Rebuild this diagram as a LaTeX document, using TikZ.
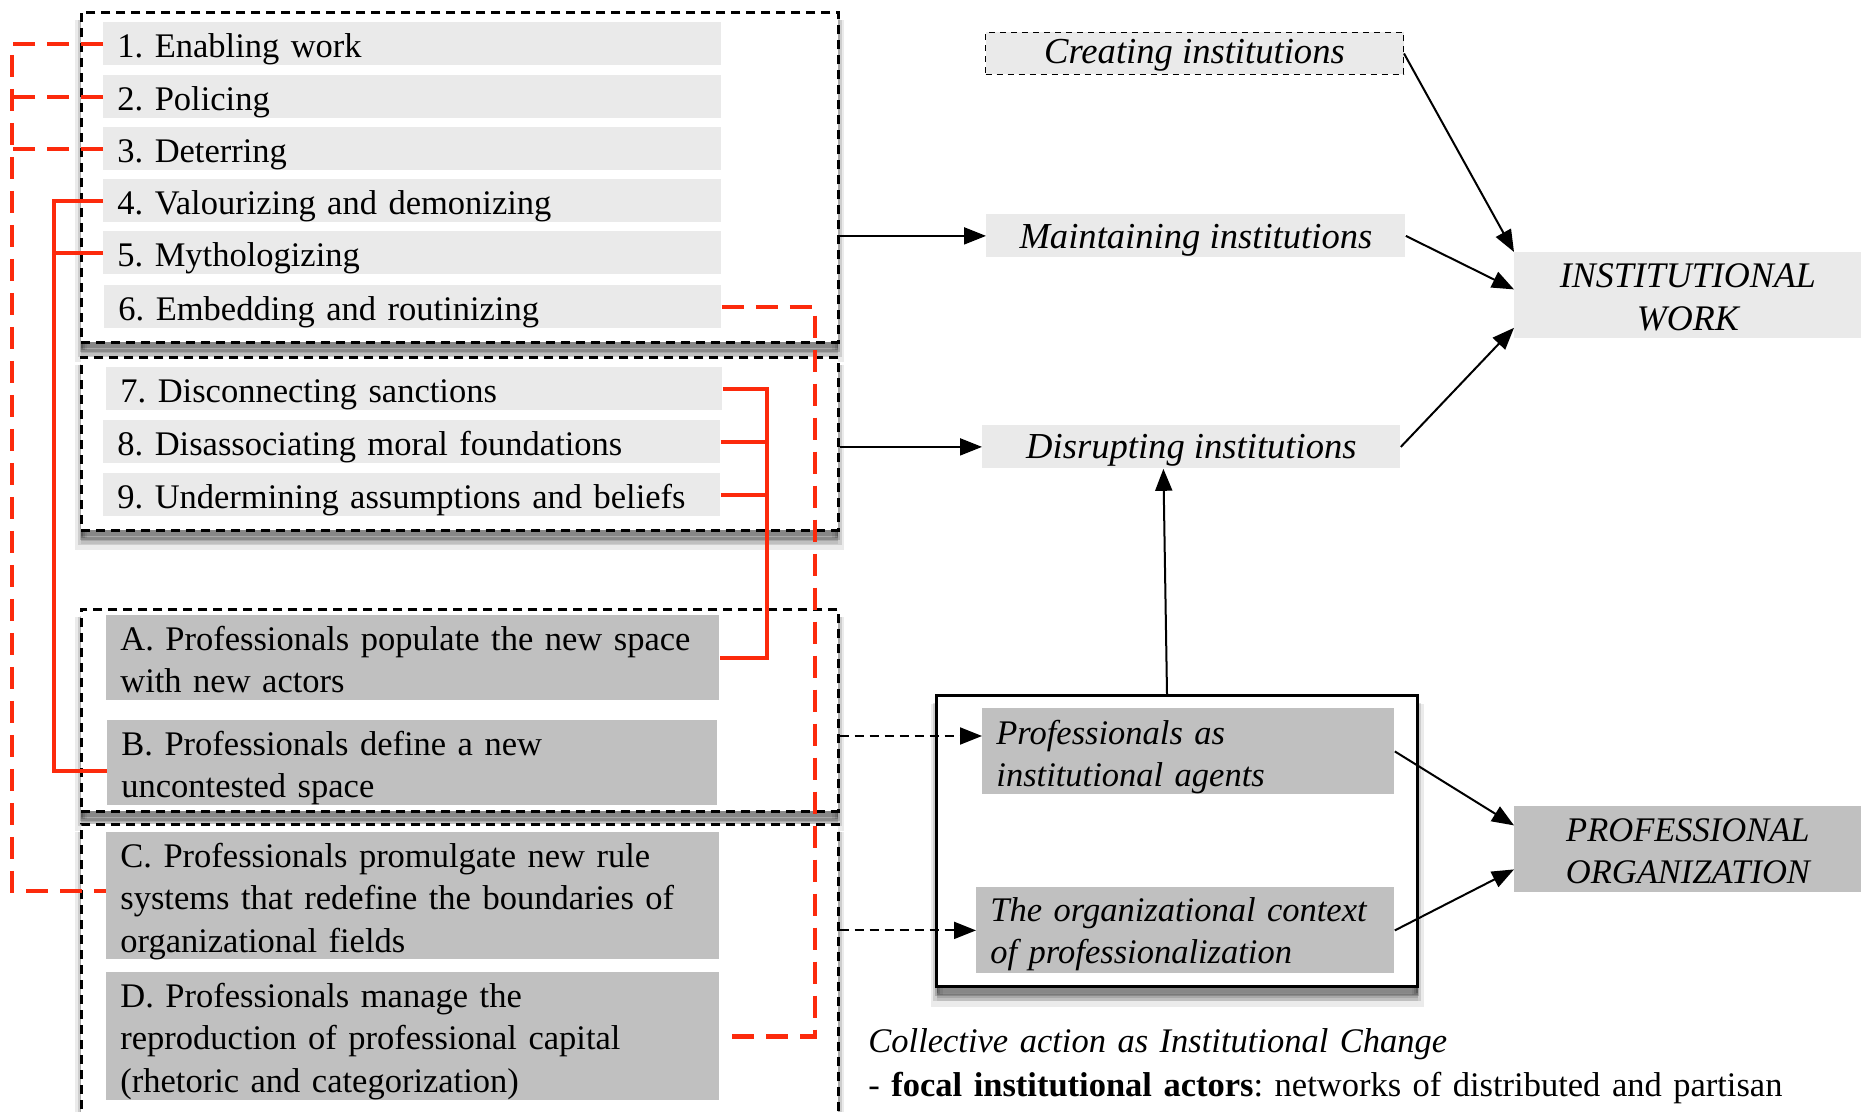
\documentclass[tikz,border=0pt]{standalone}
\usepackage{fontspec}
\setmainfont{Liberation Serif}
\usetikzlibrary{arrows.meta,calc,shadows}
\definecolor{lgray}{RGB}{234,234,234}
\definecolor{dgray}{RGB}{192,192,192}
\definecolor{pred}{RGB}{252,42,12}
\newcommand\fsz{\frenchspacing\fontsize{17.25}{21.25}\selectfont}
\newcommand\fszi{\frenchspacing\fontsize{18.3}{21.25}\selectfont\itshape}
\begin{document}
\begin{tikzpicture}[x=0.5pt,y=-0.5pt, font=\fsz,
 shd/.style={
   general shadow={fill=black, draw=black, solid, line width=6pt, opacity=0.08, shadow yshift=-7pt},
   general shadow={fill=black, draw=black, solid, line width=3.5pt, opacity=0.12, shadow yshift=-5.5pt},
   general shadow={fill=black, draw=black, solid, line width=1.5pt, opacity=0.18, shadow yshift=-4pt},
   general shadow={fill=black, opacity=0.2, shadow yshift=-3pt}},
 grp/.style={shd, draw=black, line width=1.3pt, dash pattern=on 4.5pt off 3pt, fill=white, anchor=north west, inner sep=0pt},
 itm/.style={anchor=north west, fill=lgray, inner xsep=7pt, inner ysep=0pt, text height=17.5pt, align=left},
 ditm/.style={itm, fill=dgray},
 inst/.style={anchor=north west, fill=lgray, inner sep=0pt, font=\fszi},
 rdash/.style={draw=pred, line width=2.2pt, dash pattern=on 11pt off 6pt},
 rsolid/.style={draw=pred, line width=2.2pt},
 arr/.style={draw=black, line width=1pt, -{Triangle[length=11pt,width=8.5pt]}},
 darr/.style={arr, dash pattern=on 4.5pt off 3pt},
]
\useasboundingbox (0,0) rectangle (1861,1112);
\clip (0,0) rectangle (1861,1112);

% group boxes
\node[grp, minimum width=378.5pt, minimum height=165pt] (g1) at (80,11) {};
\node[grp, minimum width=378.5pt, minimum height=86.5pt] (g2) at (80,356) {};
\node[grp, minimum width=378.5pt, minimum height=101pt] (g3) at (80,608) {};
\node[grp, minimum width=378.5pt, minimum height=155pt] (g4) at (80,823) {};

% items
\node[itm, text width=295pt, text depth=4pt] (i1) at (103,22) {1. Enabling work};
\node[itm, text width=295pt, text depth=4pt] (i2) at (103,75) {2. Policing};
\node[itm, text width=295pt, text depth=4pt] (i3) at (103,127) {3. Deterring};
\node[itm, text width=295pt, text depth=4pt] (i4) at (103,179) {4. Valourizing and demonizing};
\node[itm, text width=295pt, text depth=4pt] (i5) at (103,231) {5. Mythologizing};
\node[itm, text width=294.5pt, text depth=4pt] (i6) at (104,285) {6. Embedding and routinizing};
\node[itm, text width=294pt, text depth=4pt] (i7) at (106,367) {7. Disconnecting sanctions};
\node[itm, text width=294.5pt, text depth=4pt] (i8) at (103,420) {8. Disassociating moral foundations};
\node[itm, text width=294.5pt, text depth=4pt] (i9) at (103,473) {9. Undermining assumptions and beliefs};

\node[ditm, text width=292.5pt, text depth=25pt] (iA) at (106,615) {\mbox{A. Professionals populate the new space}\\with new actors};
\node[ditm, text width=291pt, text depth=25pt] (iB) at (107,720) {B. Professionals define a new\\uncontested space};
\node[ditm, text width=292.5pt, text depth=46pt] (iC) at (106,832) {\mbox{C. Professionals promulgate new rule}\\\mbox{systems that redefine the boundaries of}\\organizational fields};
\node[ditm, text width=292.5pt, text depth=46.5pt] (iD) at (106,972) {D. Professionals manage the\\\mbox{reproduction of professional capital}\\(rhetoric and categorization)};

% right side
\node[inst, draw=black, line width=0.5pt, dash pattern=on 3pt off 2.5pt, minimum width=209pt, text height=15.5pt, text depth=5.5pt] (cre) at (985,32) {Creating institutions};
\node[inst, minimum width=209.5pt, text height=17pt, text depth=4.5pt] (maint) at (986,214) {Maintaining institutions};
\node[inst, minimum width=209pt, text height=16.5pt, text depth=5pt] (disr) at (982,425) {Disrupting institutions};
\node[inst, font=\fsz\itshape\fontsize{18}{21.5}\selectfont, text width=173.5pt, align=center, text height=17.5pt, text depth=25.5pt] (iw) at (1514,252) {INSTITUTIONAL\\WORK};

\node[shd, draw=black, line width=1.5pt, fill=white, anchor=north west, minimum width=240.5pt, minimum height=145.5pt, inner sep=0pt] (big) at (935,694) {};
\node[ditm, font=\fsz\itshape, text width=192pt, text height=18pt, text depth=25pt] (pa) at (982,708) {Professionals as\\institutional agents};
\node[ditm, font=\fsz\itshape, text width=195pt, text height=17pt, text depth=26pt] (oc) at (976,887) {\mbox{The organizational context}\\of professionalization};
\node[inst, font=\fsz\itshape, fill=dgray, text width=173.5pt, align=center, text height=17.5pt, text depth=25.5pt] (po) at (1514,806) {PROFESSIONAL\\ORGANIZATION};

\node[anchor=base west, inner sep=0pt, text width=480pt, align=left] (cap) at (868,1052)
  {\textit{Collective action as Institutional Change}\\[1pt]- \textbf{focal institutional actors}: networks of distributed and partisan};

% red connectors
\coordinate (L) at (12,0);
\coordinate (S) at (54,0);
\coordinate (R) at (767,0);
\coordinate (Dx) at (815,0);
\coordinate (cIn) at ($(iC.west)+(0,-5)$);
\coordinate (bIn) at ($(iB.west)+(0,8)$);
\draw[rdash] (i1.west) -| (L |- cIn) -- (cIn);
\draw[rdash] (i2.west) -- (L |- i2.west);
\draw[rdash] (i3.west) -- (L |- i3.west);
\draw[rsolid] (i4.west) -| (S |- bIn) -- (bIn);
\draw[rsolid] (i5.west) -- (S |- i5.west);
\draw[rsolid] (i7.east) -| (R |- iA.east) -- (iA.east);
\draw[rsolid] (i8.east) -- (R |- i8.east);
\draw[rsolid] (i9.east) -- (R |- i9.east);
\draw[rdash] (i6.east) -| (Dx |- iD.east) -- (iD.east);

% black arrows
\coordinate (paIn) at ($(pa.north west)+(0,28)$);
\draw[arr] (g1.east |- maint.west) -- (maint.west);
\draw[arr] (g2.east |- disr.west) -- (disr.west);
\draw[darr] (g3.east |- paIn) -- (paIn);
\draw[darr] (g4.east |- oc.west) -- (oc.west);
\draw[arr] ($(big.north)+(-10,0)$) -- ($(disr.south)+(-28,0)$);
\draw[arr] (cre.east) -- (iw.north west);
\draw[arr] (maint.east) -- ($(iw.west)+(0,-6)$);
\draw[arr] (disr.east) -- ($(iw.south west)+(0,-11)$);
\draw[arr] (pa.east) -- ($(po.west)+(0,-24)$);
\draw[arr] (oc.east) -- ($(po.west)+(0,20)$);
\end{tikzpicture}
\end{document}
